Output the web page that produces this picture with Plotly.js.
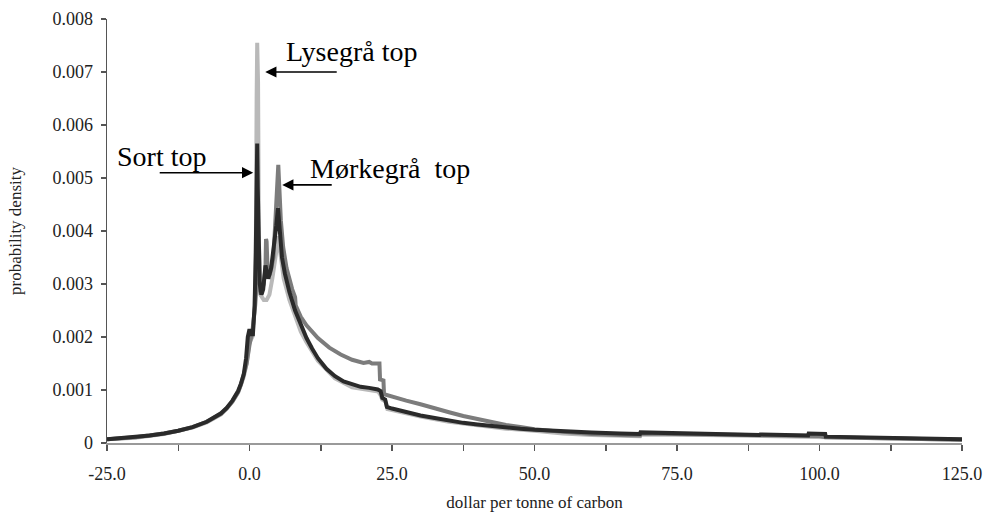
<!DOCTYPE html>
<html>
<head>
<meta charset="utf-8">
<script src="https://cdn.plot.ly/plotly-3.0.1.min.js"></script>
<style>
html,body{margin:0;padding:0;background:#fff;}
#chart{width:984px;height:515px;}
</style>
</head>
<body>
<div id="chart"></div>
<script>
// Light gray series ("Lysegrå")
const xLight = [-25,-20,-15,-10,-7.5,-5,-3,-2,-1,-0.5,0,0.5,0.9,1.1,1.25,1.35,1.5,1.65,1.9,2.5,3.0,3.5,4.0,4.5,4.9,5.1,5.4,6,7,8,9,10,12,15,18,21,22.6,23,23.3,23.9,24.2,25,30,35,40,45,50,55,60,65,68.5,68.6,75,80,90,100,110,125];
const yLight = [0.00007,0.0001,0.00017,0.00029,0.00039,0.00054,0.00078,0.00095,0.00125,0.0015,0.0019,0.002,0.0025,0.0035,0.0065,0.00755,0.0068,0.0038,0.0028,0.0027,0.0027,0.0028,0.0031,0.0035,0.0038,0.0039,0.0036,0.0031,0.0027,0.0024,0.0021,0.0019,0.00155,0.00122,0.00105,0.001,0.00097,0.0009,0.00082,0.00078,0.00064,0.00062,0.0005,0.0004,0.00033,0.00027,0.00023,0.00018,0.00015,0.00014,0.00013,0.00016,0.00016,0.00015,0.00013,0.00011,0.00009,0.00006];

// Dark gray series ("Mørkegrå")
const xDark = [-25,-20,-15,-12.5,-10,-7.5,-5,-4,-3,-2,-1.5,-1,-0.5,0,0.5,1.0,1.3,1.45,1.6,2.0,2.5,2.8,2.9,3.0,3.2,3.6,4.2,4.6,4.9,5.05,5.2,5.5,5.9,6.5,7.5,8.0,8.1,9,10,12,14,16,18,20,21,21.5,22,22.8,22.9,23.5,23.6,25,27.5,30,32.5,35,37.5,40,42.5,45,47.5,50,55,60,65,68.5,68.6,75,80,85,90,95,100,101,105,110,115,120,125];
const yDark = [0.00007,0.00011,0.00018,0.00023,0.0003,0.0004,0.00055,0.00065,0.00078,0.00096,0.0011,0.00128,0.0015,0.00185,0.0021,0.0026,0.0031,0.0033,0.003,0.0028,0.003,0.0033,0.00385,0.0038,0.0032,0.0032,0.0035,0.0042,0.0049,0.00525,0.0049,0.0042,0.0037,0.0033,0.0029,0.00275,0.0026,0.00238,0.00222,0.00198,0.0018,0.00167,0.00157,0.00151,0.00153,0.0015,0.0015,0.0015,0.0012,0.00118,0.00092,0.00087,0.0008,0.00073,0.00065,0.00058,0.00051,0.00045,0.00039,0.00034,0.0003,0.00026,0.00021,0.00017,0.00015,0.00014,0.00018,0.00017,0.00016,0.00015,0.00014,0.00013,0.00013,0.00011,0.0001,0.00009,0.00008,0.00007,0.00006];

// Black series ("Sort")
const xBlack = [-25,-22.5,-20,-17.5,-15,-12.5,-10,-7.5,-5,-4,-3,-2,-1.5,-1,-0.6,-0.3,0,0.3,0.6,0.9,1.1,1.25,1.35,1.45,1.6,1.8,2.1,2.4,2.8,3.3,3.8,4.3,4.7,5.0,5.3,5.7,6.2,7,8,9,10,11,12,13.5,15,16.5,18,19.5,21,22.5,23,23.3,23.8,24.1,25,27.5,30,32.5,35,37.5,40,42.5,45,47.5,50,55,60,65,68.5,68.6,72,75,80,85,89.5,89.6,95,98,98.1,101,101.1,105,110,115,120,125];
const yBlack = [0.00007,0.00009,0.00011,0.00014,0.00018,0.00023,0.0003,0.0004,0.00056,0.00066,0.0008,0.00098,0.00112,0.0013,0.0016,0.002,0.00215,0.00205,0.00205,0.0026,0.0036,0.0048,0.00565,0.0048,0.0036,0.003,0.0028,0.0029,0.00335,0.0031,0.0033,0.0037,0.0041,0.00443,0.004,0.0035,0.0032,0.00285,0.0025,0.00222,0.00198,0.00178,0.0016,0.0014,0.00126,0.00116,0.0011,0.00106,0.00104,0.00101,0.00098,0.00085,0.00082,0.00068,0.00065,0.00058,0.00052,0.00047,0.00042,0.00038,0.00035,0.00032,0.00029,0.00027,0.00025,0.00022,0.0002,0.00018,0.00017,0.0002,0.00019,0.00018,0.00017,0.00016,0.00015,0.00016,0.00015,0.00014,0.00018,0.00017,0.00012,0.00011,0.0001,0.00009,0.00008,0.00007];

const xTickVals = [-25,0,25,50,75,100,125];
const xTickText = ['-25.0','0.0','25.0','50.0','75.0','100.0','125.0'];
const yTickVals = [0,0.001,0.002,0.003,0.004,0.005,0.006,0.007,0.008];
const yTickText = ['0','0.001','0.002','0.003','0.004','0.005','0.006','0.007','0.008'];

const serif = 'Liberation Serif, Times New Roman, serif';

const traces = [
  {x: xLight, y: yLight, type: 'scatter', mode: 'lines', line: {color: '#b9b9b9', width: 4}, hoverinfo: 'skip'},
  {x: xDark, y: yDark, type: 'scatter', mode: 'lines', line: {color: '#7c7c7c', width: 4}, hoverinfo: 'skip'},
  {x: xBlack, y: yBlack, type: 'scatter', mode: 'lines', line: {color: '#2a2a2a', width: 4}, hoverinfo: 'skip'}
];

const arrowStyle = {showarrow: true, arrowhead: 2, arrowsize: 1.4, arrowwidth: 1.6, arrowcolor: '#000', text: ' ', ay: 0, xref: 'x', yref: 'y', font: {size: 1}};

const layout = {
  width: 984, height: 515,
  margin: {l: 107, r: 22, t: 19, b: 72},
  paper_bgcolor: '#fff', plot_bgcolor: '#fff',
  showlegend: false,
  font: {family: serif, color: '#222', size: 16},
  xaxis: {
    range: [-25, 125], showgrid: false, zeroline: false,
    showline: true, linecolor: '#9a9a9a', linewidth: 2,
    ticks: 'outside', ticklen: 6, tickwidth: 1.5, tickcolor: '#555',
    tickvals: xTickVals, ticktext: xTickText, ticklabelstandoff: 7,
    minor: {dtick: 12.5, tick0: -25, ticks: 'outside', ticklen: 6, tickwidth: 1.5, tickcolor: '#555', showgrid: false},
    tickfont: {family: serif, size: 18, color: '#222'},
    title: {text: 'dollar per tonne of carbon', font: {family: serif, size: 17, color: '#222'}, standoff: 14}
  },
  yaxis: {
    range: [0, 0.008], showgrid: false, zeroline: false,
    showline: true, linecolor: '#555', linewidth: 1.5,
    ticks: 'outside', ticklen: 5, tickwidth: 1.5, tickcolor: '#555',
    tickvals: yTickVals, ticktext: yTickText, ticklabelstandoff: 4,
    tickfont: {family: serif, size: 18, color: '#222'},
    title: {text: 'probability density', font: {family: serif, size: 17, color: '#222'}, standoff: 26}
  },
  annotations: [
    Object.assign({}, arrowStyle, {x: 2.76, y: 0.0070, ax: 73}),
    Object.assign({}, arrowStyle, {x: 0.65, y: 0.0051, ax: -95}),
    Object.assign({}, arrowStyle, {x: 5.74, y: 0.00487, ax: 51}),
    {x: 6.0, y: 0.00738, xref: 'x', yref: 'y', text: 'Lysegrå top', showarrow: false, xanchor: 'left', yanchor: 'middle', font: {family: serif, size: 28, color: '#000'}},
    {x: -23.6, y: 0.0054, xref: 'x', yref: 'y', text: 'Sort top', showarrow: false, xanchor: 'left', yanchor: 'middle', font: {family: serif, size: 28, color: '#000'}},
    {x: 10.3, y: 0.00517, xref: 'x', yref: 'y', text: 'Mørkegrå\u00a0 top', showarrow: false, xanchor: 'left', yanchor: 'middle', font: {family: serif, size: 28, color: '#000'}}
  ]
};

Plotly.newPlot('chart', traces, layout, {staticPlot: true, displayModeBar: false});
</script>
</body>
</html>
